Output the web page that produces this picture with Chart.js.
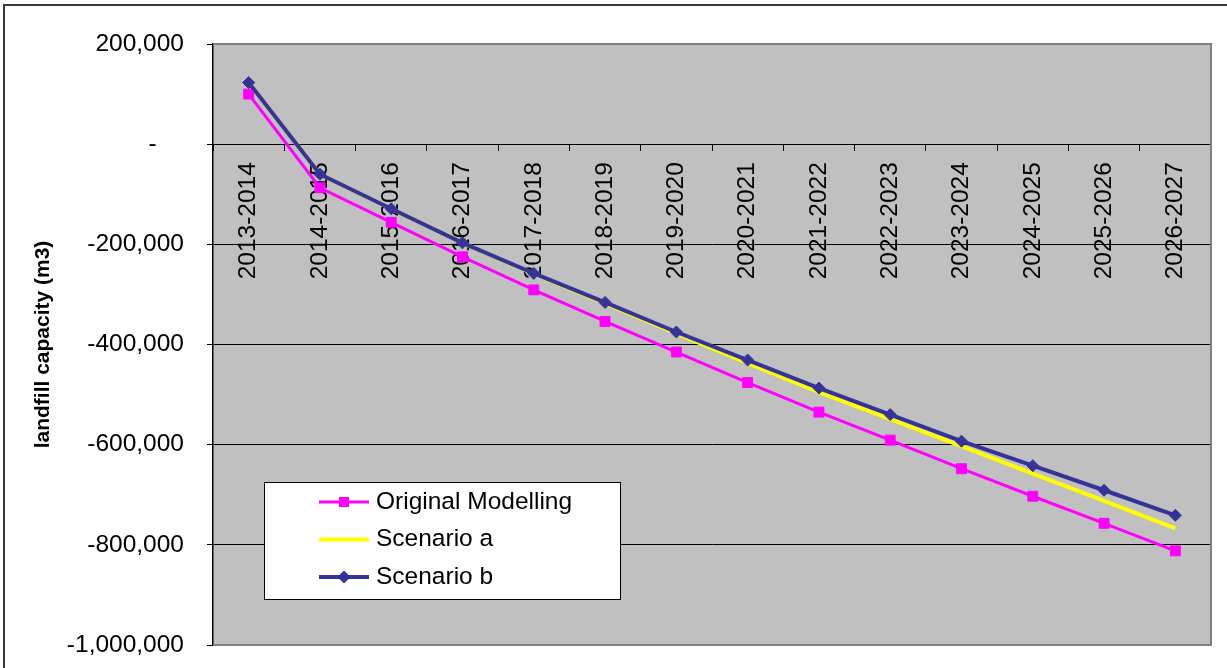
<!DOCTYPE html>
<html>
<head>
<meta charset="utf-8">
<script src="https://cdn.jsdelivr.net/npm/chart.js@4/dist/chart.umd.min.js"></script>
<style>html,body{margin:0;padding:0;background:#fff;}canvas{display:block;}</style>
</head>
<body>
<canvas id="c" width="1227" height="668"></canvas>
<script>
const categories = ['2013-2014','2014-2015','2015-2016','2016-2017','2017-2018','2018-2019','2019-2020','2020-2021','2021-2022','2022-2023','2023-2024','2024-2025','2025-2026','2026-2027'];
const originalModelling = [100000, -87000, -156000, -225000, -291000, -354000, -415000, -476000, -535000, -591000, -648000, -703000, -757000, -812000];
const scenarioA = [123000, -60000, -129000, -197000, -259000, -318000, -378000, -437000, -495000, -549000, -603000, -658000, -712000, -767000];
const scenarioB = [123000, -60000, -129000, -197000, -258000, -316000, -375000, -431000, -487000, -540000, -593000, -642000, -691000, -741000];
const yTickValues = [200000, 0, -200000, -400000, -600000, -800000, -1000000];
const seriesNames = ['Original Modelling', 'Scenario a', 'Scenario b'];
const yAxisTitle = 'landfill capacity (m3)';

const FONT = '"Liberation Sans", Arial, sans-serif';

function fmt(v) {
  if (v === 0) return '-\u2007\u2007';
  return v.toLocaleString('en-US');
}

const backgroundPlugin = {
  id: 'bg',
  beforeDraw(chart) {
    const {ctx, chartArea: a} = chart;
    ctx.save();
    ctx.fillStyle = '#ffffff';
    ctx.fillRect(0, 0, chart.width, chart.height);
    ctx.fillStyle = '#C0C0C0';
    ctx.fillRect(a.left, a.top, a.right - a.left, a.bottom - a.top);
    ctx.strokeStyle = '#3a3a3a';
    ctx.lineWidth = 2;
    ctx.strokeRect(4, 5, chart.width + 50, chart.height + 50);
    ctx.restore();
  },
  beforeDatasetsDraw(chart) {
    const {ctx, chartArea: a} = chart;
    ctx.save();
    ctx.strokeStyle = '#808080';
    ctx.lineWidth = 2;
    ctx.beginPath();
    ctx.moveTo(a.left, a.top);
    ctx.lineTo(a.right, a.top);
    ctx.lineTo(a.right, a.bottom);
    ctx.lineTo(a.left, a.bottom);
    ctx.stroke();
    ctx.restore();
  }
};

const legendPlugin = {
  id: 'boxLegend',
  afterDraw(chart) {
    const {ctx} = chart;
    const bx = 264.5, by = 482.5, bw = 356, bh = 117;
    ctx.save();
    ctx.fillStyle = '#ffffff';
    ctx.fillRect(bx, by, bw, bh);
    ctx.strokeStyle = '#000000';
    ctx.lineWidth = 1;
    ctx.strokeRect(bx, by, bw, bh);
    const rows = [502, 539.5, 577];
    chart.data.datasets.forEach((ds, i) => {
      const y = rows[i];
      ctx.strokeStyle = ds.borderColor;
      ctx.lineWidth = ds.borderWidth;
      ctx.beginPath();
      ctx.moveTo(319, y);
      ctx.lineTo(369, y);
      ctx.stroke();
      ctx.fillStyle = ds.borderColor;
      if (ds.pointStyle === 'rect') {
        ctx.fillRect(344 - 5, y - 5, 10, 10);
      } else if (ds.pointStyle === 'rectRot') {
        ctx.beginPath();
        ctx.moveTo(344, y - 6.5);
        ctx.lineTo(350.5, y);
        ctx.lineTo(344, y + 6.5);
        ctx.lineTo(337.5, y);
        ctx.closePath();
        ctx.fill();
      }
      ctx.fillStyle = '#000';
      ctx.font = '24.5px ' + FONT;
      ctx.textBaseline = 'middle';
      ctx.textAlign = 'left';
      ctx.fillText(ds.label, 376, y);
    });
    ctx.restore();
  }
};

new Chart(document.getElementById('c'), {
  type: 'line',
  data: {
    labels: categories,
    datasets: [
      {
        label: seriesNames[0], data: originalModelling,
        borderColor: '#FF00FF', backgroundColor: '#FF00FF',
        borderWidth: 3, pointStyle: 'rect', pointRadius: 7, pointBorderWidth: 1,
        pointHoverRadius: 7, tension: 0, order: 2
      },
      {
        label: seriesNames[1], data: scenarioA,
        borderColor: '#FFFF00', backgroundColor: '#FFFF00',
        borderWidth: 4, pointRadius: 0, pointHoverRadius: 0, tension: 0, order: 1
      },
      {
        label: seriesNames[2], data: scenarioB,
        borderColor: '#333399', backgroundColor: '#333399',
        borderWidth: 4, pointStyle: 'rectRot', pointRadius: 6, pointBorderWidth: 1,
        pointHoverRadius: 6, tension: 0, order: 0
      }
    ]
  },
  options: {
    responsive: false,
    animation: false,
    events: [],
    layout: { padding: { left: 0, top: 44, right: 16, bottom: 23 } },
    plugins: { legend: { display: false }, tooltip: { enabled: false }, title: { display: false } },
    scales: {
      x: {
        type: 'category',
        position: { y: 0 },
        offset: true,
        afterFit: (s) => { s.paddingLeft = 0; s.paddingRight = 0; s.paddingTop = 0; s.paddingBottom = 0; },
        grid: { display: true, drawOnChartArea: false, drawTicks: true, tickLength: 6, tickColor: '#000', tickWidth: 1, offset: true },
        border: { display: true, color: '#000', width: 1 },
        ticks: { minRotation: 90, maxRotation: 90, autoSkip: false, padding: 12, color: '#000', font: { family: FONT, size: 24.5 } }
      },
      y: {
        type: 'linear',
        position: 'left',
        min: -1000000, max: 200000,
        afterBuildTicks: (s) => { s.ticks = yTickValues.map(v => ({ value: v })); },
        afterFit: (s) => { s.width = 213; s.paddingTop = 0; s.paddingBottom = 0; },
        grid: {
          color: (c) => (c.tick && (c.tick.value === 200000 || c.tick.value === -1000000)) ? 'rgba(0,0,0,0)' : '#000',
          tickColor: '#000', tickLength: 6, lineWidth: 1
        },
        border: { display: true, color: '#000', width: 1.5 },
        ticks: { padding: 23, color: '#000', font: { family: FONT, size: 24.5 }, callback: (v) => fmt(v) },
        title: { display: true, text: yAxisTitle, color: '#000', font: { family: FONT, size: 21, weight: 'bold' }, padding: { top: 31, bottom: 0 } }
      }
    }
  },
  plugins: [backgroundPlugin, legendPlugin]
});
</script>
</body>
</html>
